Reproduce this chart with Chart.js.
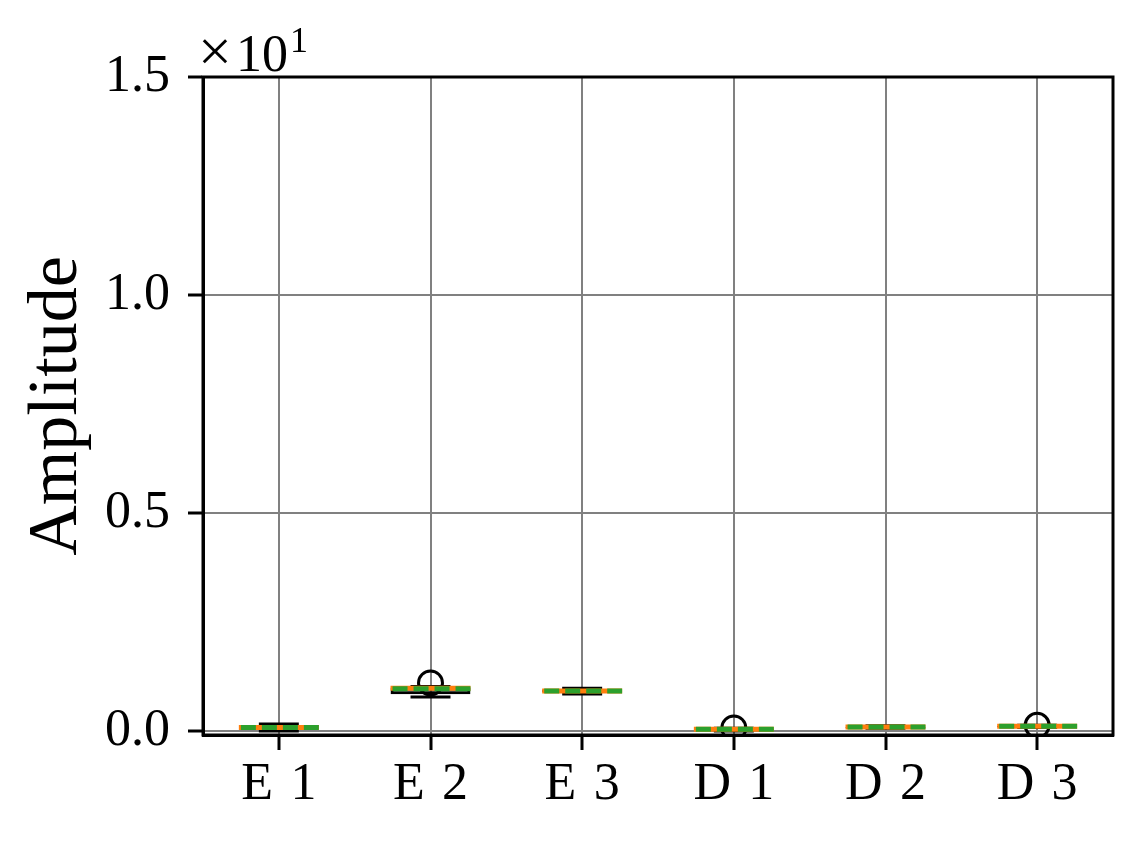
<!DOCTYPE html>
<html>
<head>
<meta charset="utf-8">
<script src="https://cdn.jsdelivr.net/npm/chart.js@4"></script>
<style>
  html, body { margin: 0; padding: 0; background: #fff; }
  #wrap { width: 1143px; height: 842px; }
</style>
</head>
<body>
<div id="wrap"><canvas id="box-chart" width="1143" height="842"></canvas></div>
<script>
// values in real units (axis shows them as x10^1)
const categories = ['E\u20041', 'E\u20042', 'E\u20043', 'D\u20041', 'D\u20042', 'D\u20043'];
const whiskerLow  = [0.00, 0.78, 0.85, 0.00, 0.06, 0.08];
const quartile1   = [0.04, 0.84, 0.89, 0.02, 0.07, 0.09];
const medians     = [0.08, 0.98, 0.92, 0.04, 0.09, 0.11];
const means       = [0.08, 0.97, 0.92, 0.04, 0.09, 0.11];
const quartile3   = [0.14, 1.00, 0.95, 0.06, 0.10, 0.12];
const whiskerHigh = [0.16, 1.02, 0.98, 0.06, 0.12, 0.13];
const fliers      = [null, 1.10, null, 0.07, null, 0.13];
const yTicks      = [0, 5, 10, 15];

const serif = 'Liberation Serif';
const boxFrac = 0.527;

const boxParts = {
    id: 'boxParts',
    afterDatasetsDraw(chart) {
        const {ctx, scales: {x, y}} = chart;
        const half = x.width / categories.length * boxFrac / 2;
        ctx.save();
        categories.forEach((c, i) => {
            const cx = x.getPixelForValue(i);
            ctx.strokeStyle = '#000';
            ctx.lineWidth = 3;
            ctx.setLineDash([]);
            ctx.beginPath();
            // whiskers
            ctx.moveTo(cx, y.getPixelForValue(quartile3[i]));
            ctx.lineTo(cx, y.getPixelForValue(whiskerHigh[i]));
            ctx.moveTo(cx, y.getPixelForValue(quartile1[i]));
            ctx.lineTo(cx, y.getPixelForValue(whiskerLow[i]));
            // caps
            ctx.moveTo(cx - half / 2, y.getPixelForValue(whiskerHigh[i]));
            ctx.lineTo(cx + half / 2, y.getPixelForValue(whiskerHigh[i]));
            ctx.moveTo(cx - half / 2, y.getPixelForValue(whiskerLow[i]));
            ctx.lineTo(cx + half / 2, y.getPixelForValue(whiskerLow[i]));
            ctx.stroke();
            // median
            ctx.strokeStyle = '#ff7f0e';
            ctx.lineWidth = 5;
            ctx.beginPath();
            ctx.moveTo(cx - half, y.getPixelForValue(medians[i]));
            ctx.lineTo(cx + half, y.getPixelForValue(medians[i]));
            ctx.stroke();
            // mean (dashed)
            ctx.strokeStyle = '#2ca02c';
            ctx.setLineDash([15, 6]);
            ctx.lineDashOffset = -2;
            ctx.beginPath();
            ctx.moveTo(cx - half, y.getPixelForValue(means[i]));
            ctx.lineTo(cx + half, y.getPixelForValue(means[i]));
            ctx.stroke();
        });
        ctx.restore();
    },
    afterDraw(chart) {
        const {ctx, chartArea: a} = chart;
        ctx.save();
        ctx.strokeStyle = '#000';
        ctx.lineWidth = 3;
        ctx.strokeRect(a.left, a.top, a.right - a.left, a.bottom - a.top);
        ctx.fillStyle = '#000';
        ctx.textBaseline = 'alphabetic';
        ctx.font = '60px "' + serif + '"';
        ctx.fillText('\u00d7', 198, 71);
        ctx.font = '52px "' + serif + '"';
        ctx.fillText('10', 236, 71);
        ctx.font = '36px "' + serif + '"';
        ctx.fillText('1', 290, 52);
        ctx.restore();
    }
};

new Chart(document.getElementById('box-chart'), {
    data: {
        labels: categories,
        datasets: [{
            type: 'bar',
            data: quartile1.map((q, i) => [q, quartile3[i]]),
            backgroundColor: 'rgba(0,0,0,0)',
            borderColor: '#000',
            borderWidth: 3,
            borderSkipped: false,
            categoryPercentage: 1,
            barPercentage: boxFrac
        }, {
            type: 'line',
            data: fliers,
            showLine: false,
            pointStyle: 'circle',
            pointRadius: 12,
            pointBorderWidth: 3,
            pointBorderColor: '#000',
            pointBackgroundColor: 'rgba(0,0,0,0)'
        }]
    },
    plugins: [boxParts],
    options: {
        responsive: false,
        animation: false,
        layout: { padding: { left: 0, top: 77, right: 30, bottom: 0 } },
        plugins: { legend: { display: false }, tooltip: { enabled: false } },
        scales: {
            x: {
                offset: true,
                grid: { offset: false, color: '#808080', lineWidth: 2, tickColor: '#000', tickLength: 15, tickWidth: 3 },
                border: { display: true, color: '#000', width: 3 },
                ticks: { color: '#000', padding: 4, font: { family: serif, size: 52 } },
                afterFit: s => { s.height = 107; }
            },
            y: {
                min: -0.092,
                max: 15,
                afterBuildTicks: s => { s.ticks = yTicks.map(v => ({ value: v })); },
                grid: { color: '#808080', lineWidth: 2, tickColor: '#000', tickLength: 15, tickWidth: 3 },
                border: { display: true, color: '#000', width: 3 },
                ticks: {
                    color: '#000', padding: 18,
                    font: { family: serif, size: 52 },
                    callback: v => (v / 10).toFixed(1)
                },
                title: {
                    display: true, text: 'Amplitude', color: '#000',
                    font: { family: serif, size: 70 },
                    padding: { top: 16, bottom: 0 }
                },
                afterFit: s => { s.width = 203; }
            }
        }
    }
});
</script>
</body>
</html>
